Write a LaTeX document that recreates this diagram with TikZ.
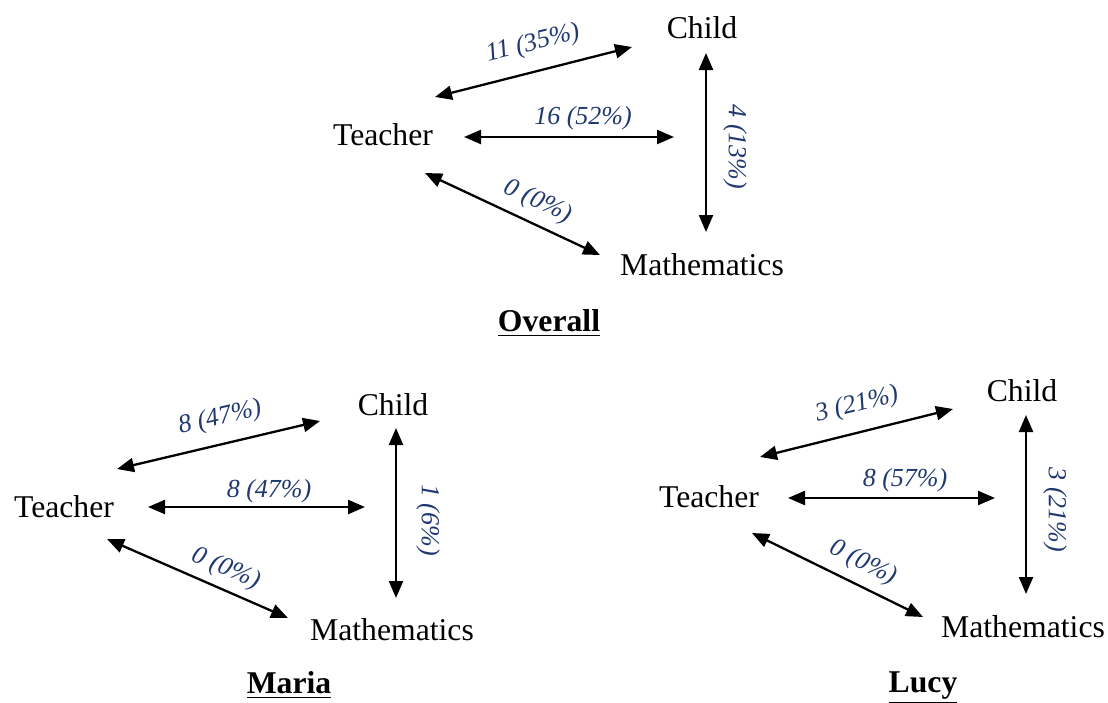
\documentclass[tikz,border=0pt]{standalone}
\usepackage{fontspec}
\setmainfont{Liberation Serif}
\usetikzlibrary{arrows.meta}
\definecolor{lblblue}{RGB}{31,56,112}
\tikzset{
  term/.style={inner sep=0pt, anchor=base, font=\fontsize{15.85pt}{18pt}\selectfont},
  ttl/.style={inner sep=0pt, anchor=center, font=\fontsize{15.85pt}{18pt}\selectfont\bfseries},
  lbl/.style={inner sep=0pt, anchor=center, text=lblblue, font=\fontsize{13pt}{15pt}\selectfont\itshape},
  link/.style={line width=1.15pt, {Triangle[length=8.5pt,width=7pt]}-{Triangle[length=8.5pt,width=7pt]}}
}
\begin{document}
\begin{tikzpicture}[x=0.5pt,y=-0.5pt]
\useasboundingbox (0,0) rectangle (1108,702);
% ---------- Overall ----------
\node[term] (oC) at (702,38) {Child};
\node[term] (oT) at (383,145) {Teacher};
\node[term] (oM) at (702,275) {Mathematics};
\coordinate (oTC1) at (435,97);  \coordinate (oTC2) at (632,47);
\coordinate (oTH1) at (464,137); \coordinate (oTH2) at (674,137);
\coordinate (oCM1) at (706,53);  \coordinate (oCM2) at (706,232);
\coordinate (oTM1) at (425,173); \coordinate (oTM2) at (600,255);
\draw[link] (oTC1) -- (oTC2);
\draw[link] (oTH1) -- (oTH2);
\draw[link] (oCM1) -- (oCM2);
\draw[link] (oTM1) -- (oTM2);
\node[lbl, rotate=14] (oL1) at (533,44) {11 (35\%)};
\node[lbl] (oL2) at (583,118) {16 (52\%)};
\node[lbl, rotate=-90] (oL3) at (735,147) {4 (13\%)};
\node[lbl, rotate=-25] (oL4) at (538,202) {0 (0\%)};
\node[ttl] (oTitle) at (549,323) {\underline{Overall}};
% ---------- Maria ----------
\node[term] (mC) at (393,415) {Child};
\node[term] (mT) at (64,517) {Teacher};
\node[term] (mM) at (392,640) {Mathematics};
\coordinate (mTC1) at (117,469); \coordinate (mTC2) at (320,421);
\coordinate (mTH1) at (148,507); \coordinate (mTH2) at (365,507);
\coordinate (mCM1) at (396,428); \coordinate (mCM2) at (396,598);
\coordinate (mTM1) at (107,539); \coordinate (mTM2) at (288,618);
\draw[link] (mTC1) -- (mTC2);
\draw[link] (mTH1) -- (mTH2);
\draw[link] (mCM1) -- (mCM2);
\draw[link] (mTM1) -- (mTM2);
\node[lbl, rotate=13] (mL1) at (220,418) {8 (47\%)};
\node[lbl] (mL2) at (269,491) {8 (47\%)};
\node[lbl, rotate=-90] (mL3) at (428,520) {1 (6\%)};
\node[lbl, rotate=-24] (mL4) at (226,569) {0 (0\%)};
\node[ttl] (mTitle) at (289,685) {\underline{Maria}};
% ---------- Lucy ----------
\node[term] (lC) at (1022,401) {Child};
\node[term] (lT) at (709,507) {Teacher};
\node[term] (lM) at (1023,637) {Mathematics};
\coordinate (lTC1) at (760,457); \coordinate (lTC2) at (953,409);
\coordinate (lTH1) at (788,498); \coordinate (lTH2) at (995,498);
\coordinate (lCM1) at (1026,415); \coordinate (lCM2) at (1026,594);
\coordinate (lTM1) at (752,533); \coordinate (lTM2) at (923,617);
\draw[link] (lTC1) -- (lTC2);
\draw[link] (lTH1) -- (lTH2);
\draw[link] (lCM1) -- (lCM2);
\draw[link] (lTM1) -- (lTM2);
\node[lbl, rotate=14] (lL1) at (857,405) {3 (21\%)};
\node[lbl] (lL2) at (905,480) {8 (57\%)};
\node[lbl, rotate=-90] (lL3) at (1055,510) {3 (21\%)};
\node[lbl, rotate=-26] (lL4) at (863,563) {0 (0\%)};
\node[ttl] (lTitle) at (923,688) {\underline{Lucy}};
\end{tikzpicture}
\end{document}
